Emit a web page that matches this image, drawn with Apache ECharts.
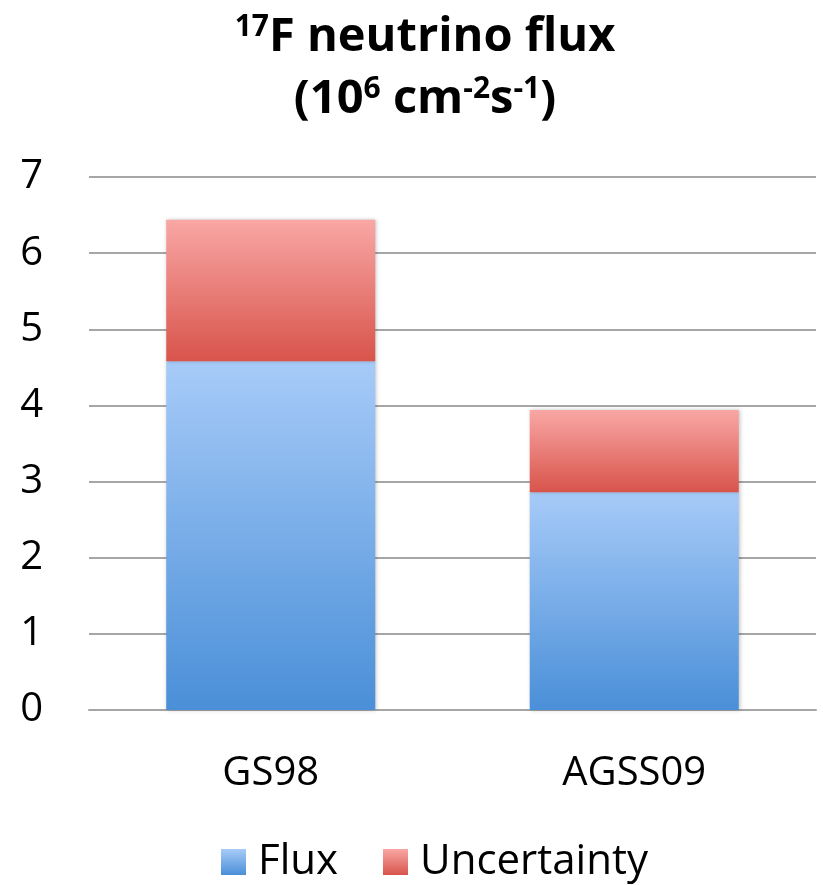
<!DOCTYPE html>
<html>
<head>
<meta charset="utf-8">
<script src="https://cdn.jsdelivr.net/npm/echarts@6/dist/echarts.min.js"></script>
<style>html,body{margin:0;padding:0;background:#fff;}#c{width:823px;height:885px;}</style>
</head>
<body>
<div id="c"></div>
<script>
const categories = ['GS98', 'AGSS09'];
const fluxValues = [4.58, 2.86];
const uncertaintyValues = [1.86, 1.08];
const yTicks = [0, 1, 2, 3, 4, 5, 6, 7];

const FONT = '"Open Sans", "Liberation Sans", sans-serif';
function grad(top, bottom) {
  return new echarts.graphic.LinearGradient(0, 0, 0, 1, [
    { offset: 0, color: top }, { offset: 1, color: bottom }
  ]);
}
const blue = grad('#a7cbf8', '#4a8fd8');
const red = grad('#f9a7a5', '#d8544b');

const chart = echarts.init(document.getElementById('c'), null, { renderer: 'canvas' });
chart.setOption({
  animation: false,
  backgroundColor: '#ffffff',
  title: {
    text: '{sup|17}{t|F neutrino flux}\n{t|(10}{sup|6}{t| cm}{sup|-2}{t|s}{sup|-1}{t|)}',
    left: 420,
    textAlign: 'center',
    top: 2,
    textStyle: {
      fontFamily: FONT,
      lineHeight: 62,
      rich: {
        t: { fontFamily: FONT, fontSize: 47, fontWeight: 'bold', color: '#000', lineHeight: 62, verticalAlign: 'middle' },
        sup: { fontFamily: FONT, fontSize: 30, fontWeight: 'bold', color: '#000', lineHeight: 62, verticalAlign: 'middle', padding: [0, 0, 22, 0] }
      }
    }
  },
  legend: {
    top: 836,
    left: 216,
    icon: 'rect',
    itemWidth: 25,
    itemHeight: 26,
    itemGap: 45,
    textStyle: { fontFamily: FONT, fontSize: 42, lineHeight: 42, color: '#000', padding: [0, 0, 0, 7] },
    data: ['Flux', 'Uncertainty']
  },
  grid: { left: 89, right: 7, top: 177, bottom: 175, containLabel: false },
  xAxis: {
    type: 'category',
    data: categories,
    axisTick: { show: false },
    axisLine: { show: true, lineStyle: { color: '#a6a6a6', width: 2 } },
    axisLabel: { fontFamily: FONT, fontSize: 40, color: '#000', margin: 44 }
  },
  yAxis: {
    type: 'value',
    min: yTicks[0],
    max: yTicks[yTicks.length - 1],
    interval: 1,
    axisLine: { show: false },
    axisTick: { show: false },
    splitLine: { lineStyle: { color: '#a6a6a6', width: 2 } },
    axisLabel: { fontFamily: FONT, fontSize: 40, color: '#000', margin: 46 }
  },
  series: [
    {
      name: 'Flux', type: 'bar', stack: 'total', barWidth: '57.5%',
      data: fluxValues,
      itemStyle: { color: blue, shadowColor: 'rgba(0,0,0,0.25)', shadowBlur: 4, shadowOffsetX: 1 }
    },
    {
      name: 'Uncertainty', type: 'bar', stack: 'total', barWidth: '57.5%',
      data: uncertaintyValues,
      itemStyle: { color: red, shadowColor: 'rgba(0,0,0,0.25)', shadowBlur: 4, shadowOffsetX: 1 }
    }
  ]
});
</script>
</body>
</html>
